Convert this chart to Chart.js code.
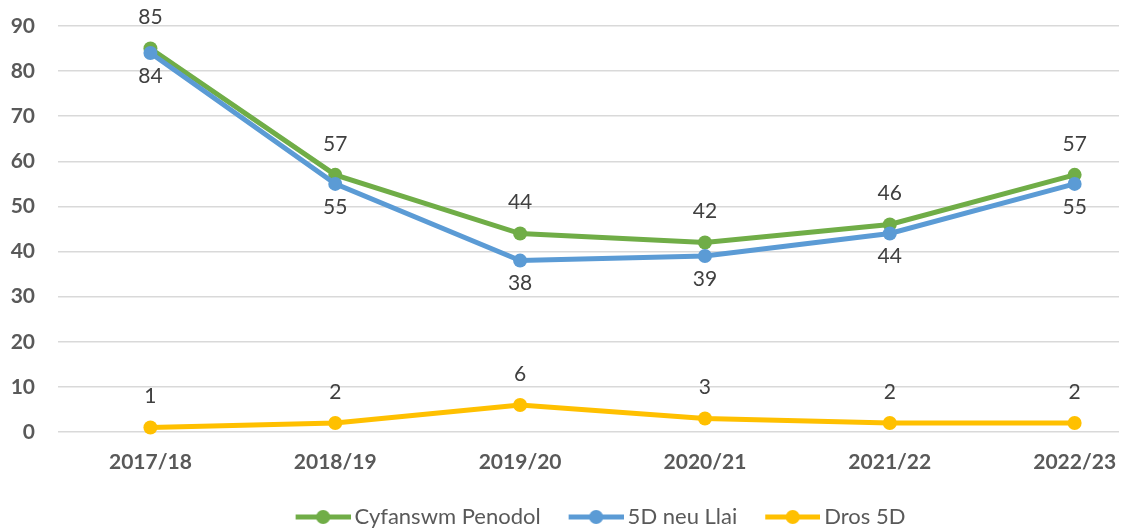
<!DOCTYPE html>
<html>
<head>
<meta charset="utf-8">
<script src="https://cdn.jsdelivr.net/npm/chart.js@4/dist/chart.umd.min.js"></script>
<style>
html,body{margin:0;padding:0;background:#fff;overflow:hidden;}
#wrap{width:1126px;height:529px;position:relative;}
</style>
</head>
<body>
<div id="wrap"><canvas id="c" width="1126" height="529"></canvas></div>
<script>
const categories = ["2017/18", "2018/19", "2019/20", "2020/21", "2021/22", "2022/23"];
const seriesNames = ["Cyfanswm Penodol", "5D neu Llai", "Dros 5D"];
const totalValues = [85, 57, 44, 42, 46, 57];
const under5Values = [84, 55, 38, 39, 44, 55];
const over5Values = [1, 2, 6, 3, 2, 2];
const yTicks = [0, 10, 20, 30, 40, 50, 60, 70, 80, 90];

const colors = ["#70AD47", "#5B9BD5", "#FFC000"];
const labelOffsets = [-31, 23, -31];
const FONT = "Lato, 'Open Sans', sans-serif";

function toPoints(vals){ return vals.map((v,i)=>({x:i, y:v})); }

function legendImage(color){
  const c = document.createElement('canvas');
  c.width = 86; c.height = 16;
  const g = c.getContext('2d');
  g.strokeStyle = color; g.lineWidth = 5; g.lineCap = 'butt';
  g.beginPath(); g.moveTo(31, 8); g.lineTo(86, 8); g.stroke();
  g.fillStyle = color; g.beginPath(); g.arc(58.5, 8, 7, 0, Math.PI*2); g.fill();
  return c;
}
const legendImgs = colors.map(legendImage);

const dataLabelPlugin = {
  id: 'dataLabels',
  afterDatasetsDraw(chart){
    const ctx = chart.ctx;
    ctx.save();
    ctx.font = "21px " + FONT;
    ctx.fillStyle = "#404040";
    ctx.textAlign = "center";
    ctx.textBaseline = "middle";
    chart.data.datasets.forEach((ds, di) => {
      const meta = chart.getDatasetMeta(di);
      meta.data.forEach((pt, i) => {
        ctx.fillText(String(ds.data[i].y), pt.x, pt.y + labelOffsets[di]);
      });
    });
    ctx.restore();
  }
};

const datasetValues = [totalValues, under5Values, over5Values];
const datasets = datasetValues.map((vals, i) => ({
  label: seriesNames[i],
  data: toPoints(vals),
  borderColor: colors[i],
  backgroundColor: colors[i],
  borderWidth: 5,
  pointRadius: 7,
  pointBorderWidth: 0,
  pointBackgroundColor: colors[i],
  pointHoverRadius: 7,
  tension: 0,
  clip: false,
  order: [2, 1, 0][i]
}));

new Chart(document.getElementById('c'), {
  type: 'line',
  data: { datasets },
  options: {
    responsive: false,
    animation: false,
    events: [],
    layout: { padding: { top: 26, right: 0, left: 0, bottom: -9 } },
    scales: {
      x: {
        type: 'linear',
        min: -0.5,
        max: 5.24,
        afterBuildTicks(scale){ scale.ticks = categories.map((c,i)=>({value:i})); },
        afterFit(scale){ scale.height = 70; scale.paddingLeft = 0; scale.paddingRight = 0; },
        grid: { display: false, drawTicks: false },
        border: { display: false },
        ticks: {
          padding: 18,
          color: "#595959",
          font: { family: FONT, size: 21, weight: 'bold' },
          callback: (v) => categories[v] !== undefined ? categories[v] : ''
        }
      },
      y: {
        min: 0, max: 90,
        afterBuildTicks(scale){ scale.ticks = yTicks.map(v=>({value:v})); },
        afterFit(scale){ scale.width = 58; scale.paddingTop = 0; scale.paddingBottom = 0; },
        grid: { color: "#d9d9d9", lineWidth: 1.5, drawTicks: false },
        border: { display: false },
        ticks: {
          padding: 23,
          color: "#595959",
          font: { family: FONT, size: 21, weight: 'bold' }
        }
      }
    },
    plugins: {
      tooltip: { enabled: false },
      legend: {
        position: 'bottom',
        fullSize: false,
        labels: {
          usePointStyle: true,
          pointStyleWidth: 72,
          padding: 4,
          color: "#595959",
          font: { family: FONT, size: 22 },
          sort: (a, b) => a.datasetIndex - b.datasetIndex,
          generateLabels(chart){
            const items = Chart.defaults.plugins.legend.labels.generateLabels(chart);
            items.forEach(it => { it.pointStyle = legendImgs[it.datasetIndex]; it.rotation = 0; });
            return items;
          }
        }
      }
    }
  },
  plugins: [dataLabelPlugin]
});
</script>
</body>
</html>
